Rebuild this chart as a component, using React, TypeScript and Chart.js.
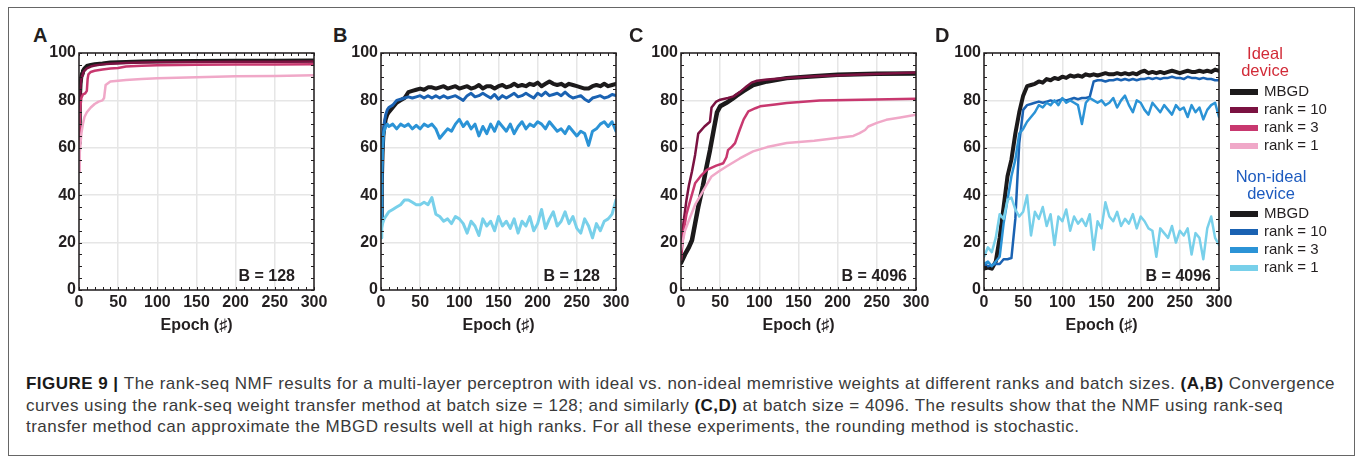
import React, { useEffect, useLayoutEffect, useRef } from 'react';
import { Chart, registerables } from 'chart.js';
Chart.register(...registerables);

const FONT = '"Liberation Sans", Arial, Helvetica, sans-serif';
const INK = '#231f20';

// ---------- colours ----------
const COLOR_MBGD = '#1c1a1b';
const IDEAL_COLORS = ['#1c1a1b', '#7b1241', '#c8386f', '#f0a8c8'];
const NONIDEAL_COLORS = ['#1c1a1b', '#1a62b2', '#2b93d6', '#78d0ea'];
const LEGEND_LABELS = ['MBGD', 'rank = 10', 'rank = 3', 'rank = 1'];

// ---------- axis ----------
const X_MIN = 0, X_MAX = 300, X_STEP = 50;
const Y_MIN = 0, Y_MAX = 100, Y_STEP = 20;
const X_TITLE = 'Epoch (\u266F)';

// ---------- Panel A (ideal, B = 128) ----------
const A_EP_M = [0, 1, 2, 3, 4, 5, 7, 10, 15, 20, 30, 40, 60, 80, 100, 150, 200, 250, 300];
const A_MBGD = [62, 80, 87, 90, 91.5, 92.5, 93.5, 94.5, 95, 95.3, 95.6, 96, 96.2, 96.4, 96.5, 96.6, 96.7, 96.7, 96.8];
const A_R10 = [60, 78, 86, 89, 90.5, 91.5, 92.5, 93.5, 94.3, 94.7, 95.2, 95.5, 95.8, 96, 96.1, 96.2, 96.3, 96.3, 96.4];
const A_EP_R3 = [0, 1, 2, 3, 5, 8, 10, 11, 12, 15, 20, 30, 40, 50, 60, 80, 100, 150, 200, 250, 300];
const A_R3 = [60, 72, 78, 81, 82.5, 83, 84, 89, 91, 92, 92.5, 93, 93.5, 93.7, 94.3, 94.6, 94.8, 95, 95.2, 95.2, 95.3];
const A_EP_R1 = [0, 1, 2, 3, 5, 7, 10, 15, 20, 25, 30, 32, 34, 40, 50, 60, 80, 100, 150, 200, 250, 300];
const A_R1 = [50, 58, 62, 66, 70, 73, 75, 77, 78.5, 79.5, 80, 81, 86.5, 88, 88.3, 88.6, 89, 89.3, 89.8, 90.2, 90.3, 90.6];

// ---------- Panel B (non-ideal, B = 128) ----------
const B_EP = [0, 1, 2, 3, 4, 6, 8, 10, 15, 20, 25, 30, 35, 40, 45, 50, 55, 60, 65, 70, 75, 80, 85, 90, 95, 100,
  105, 110, 115, 120, 125, 130, 135, 140, 145, 150, 155, 160, 165, 170, 175, 180, 185, 190, 195, 200, 205, 210,
  215, 220, 225, 230, 235, 240, 245, 250, 255, 260, 265, 270, 275, 280, 285, 290, 295, 300];
const B_MBGD = [30, 45, 58, 65, 68, 72, 74, 75, 77, 79,
  80, 81, 83.5, 84, 84.5, 85, 84.5, 85.5, 85.5, 85,
  85.5, 86, 85, 85.5, 86, 85, 85.5, 86, 85, 85.5,
  86.5, 85, 86, 86, 85, 86, 86.5, 85.5, 86, 87,
  86, 86.5, 86, 87, 86.5, 87.5, 86, 87, 88, 87,
  86.5, 87, 86, 87, 86.5, 86, 85.5, 85, 85, 86,
  86.5, 86, 87, 86, 86.5, 87];
const B_R10 = [28, 45, 58, 66, 70, 74, 76, 77, 78, 80,
  80.5, 81, 81.5, 81, 81.5, 82, 81, 82, 81, 82,
  81, 82, 81, 81.5, 82, 81, 80, 82, 83, 81.5,
  82, 83, 82, 81, 82.5, 80.5, 82, 81, 82, 83,
  81.5, 82, 83, 82, 81, 83, 82, 83.5, 82, 82.5,
  83, 82, 83.5, 82, 81, 81.5, 82, 80.5, 79.5, 81,
  81.5, 82, 81, 81.5, 82.5, 82];
const B_R3 = [30, 50, 60, 65, 67, 69, 70, 69, 70, 68,
  70, 69, 70, 68, 69.5, 68, 70, 69, 70, 68,
  64, 66, 68, 67, 70, 72, 69, 71, 68, 70,
  65, 69, 66, 70, 67, 71, 69, 67, 70, 66,
  69, 71, 68, 70, 69, 71, 70, 68, 71, 69,
  67, 68, 66, 69, 67, 65, 67, 66, 61, 67,
  68, 70, 71, 69, 71, 67];
const B_R1 = [22, 26, 28, 29, 30, 31, 32, 33, 34, 35,
  36, 38, 38, 37, 36, 36, 37, 36, 39, 32,
  31, 29, 30, 28, 31, 30, 28, 24, 29, 27,
  23, 30, 27, 29, 25, 31, 27, 29, 26, 30,
  24, 29, 27, 31, 25, 28, 34, 26, 30, 33,
  27, 29, 33, 28, 31, 26, 24, 30, 27, 22,
  28, 25, 29, 30, 32, 38];

// ---------- Panel C (ideal, B = 4096) ----------
const C_EP_M = [0, 5, 10, 14, 18, 22, 28, 32, 37, 42, 46, 50, 58, 65, 71, 80, 92, 110, 135, 170, 200, 250, 300];
const C_MBGD = [11.5, 15, 18, 21, 28, 35, 44, 51, 59, 68, 75, 77.5, 79, 80.5, 82, 84, 86.5, 88, 89.4, 90.2, 90.8, 91.2, 91.4];
const C_EP_R10 = [0, 3, 7, 10, 14, 18, 22, 30, 37, 39, 45, 50, 60, 67, 75, 84, 90, 97, 110, 135, 170, 220, 300];
const C_R10 = [14, 28, 38, 44, 50, 57, 66, 69, 71, 77, 79.5, 80.3, 81, 81.7, 83.5, 86, 87.5, 88.3, 88.8, 89.5, 90.2, 90.8, 91.8];
const C_EP_R3 = [0, 3, 7, 12, 18, 25, 33, 45, 54, 58, 60, 65, 69, 75, 80, 86, 95, 101, 120, 135, 177, 230, 300];
const C_R3 = [12.7, 24, 32, 38, 45, 48, 50.7, 52.5, 53.5, 56, 59, 60.5, 62, 67.6, 72, 75.4, 76.7, 77.5, 78.3, 78.9, 80, 80.3, 80.7];
const C_EP_R1 = [0, 5, 12, 18, 24, 32, 39, 48, 58, 75, 92, 110, 135, 170, 199, 220, 228, 235, 239, 250, 262, 280, 300];
const C_R1 = [17, 25, 31, 36, 39.4, 44, 47.9, 50, 52.1, 55.5, 58.5, 60.3, 62, 63, 64.1, 65, 66.2, 67.5, 69, 70.5, 71.8, 72.8, 73.9];

// ---------- Panel D (non-ideal, B = 4096) ----------
const D_EP = [0, 5, 10, 15, 20, 25, 30, 35, 40, 45, 50, 55, 60, 65, 70, 75, 80, 85, 90, 95, 100, 105, 110, 115,
  120, 125, 130, 135, 140, 145, 150, 155, 160, 165, 170, 175, 180, 185, 190, 195, 200, 205, 210, 215, 220, 225,
  230, 235, 240, 245, 250, 255, 260, 265, 270, 275, 280, 285, 290, 295, 300];
const D_MBGD = [9, 9.5, 9, 12, 22, 35, 48, 55, 66, 75,
  82, 86, 86.5, 87, 88, 87.5, 89, 88.5, 89.5, 89,
  90, 89.5, 90.5, 90, 90.5, 90, 91, 90.5, 91, 90.5,
  91, 91.5, 91, 91, 91.5, 91, 91.5, 91, 91.5, 91,
  92, 92.5, 91.5, 92, 91.5, 92, 91.5, 92, 92.5, 92,
  91.5, 92, 92.5, 92, 92, 92.5, 92, 92.5, 92, 93,
  92.5];
const D_R10 = [11, 10, 10.5, 11, 11, 13, 13, 13.5, 30, 62,
  76, 78, 78.5, 79, 79.5, 79, 79.5, 80, 79.5, 80,
  80.5, 80, 80.5, 81, 80.5, 81, 81, 81.5, 88, 88.5,
  88.5, 88, 88.5, 88.5, 89, 88.5, 89, 88.5, 89, 88.5,
  89, 89, 89.5, 89, 89.5, 89, 89.5, 89.5, 90, 89.5,
  89.5, 89, 90, 89.5, 89.5, 89, 89.5, 89, 89, 88.5,
  88.5];
const D_R3 = [11, 12, 10, 12, 14, 28, 38, 48, 55, 66,
  68, 71, 73, 75, 78, 77, 79, 78, 80, 78,
  81, 79, 80, 79, 78, 70, 79, 81, 80, 79,
  80, 78, 79, 81, 77, 80, 82, 78, 75, 80,
  79, 76, 74, 79, 77, 75, 78, 76, 74, 78,
  76, 77, 73, 78, 75, 77, 72, 76, 78, 79,
  73];
const D_R1 = [14, 18, 16, 22, 32, 30, 38, 39, 34, 31,
  33, 40, 23, 33, 30, 35, 27, 32, 19, 31,
  29, 34, 25, 31, 28, 30, 27, 32, 17, 29,
  26, 37, 31, 29, 33, 27, 30, 28, 32, 26,
  31, 29, 26, 25, 14, 26, 24, 22, 27, 20,
  25, 23, 26, 15, 24, 22, 13, 26, 31, 22,
  19];

// ---------- caption ----------
const CAPTION_LINES: [string, boolean][][] = [
  [['FIGURE 9 | ', true], ['The rank-seq NMF results for a multi-layer perceptron with ideal vs. non-ideal memristive weights at different ranks and batch sizes. ', false], ['(A,B)', true], [' Convergence', false]],
  [['curves using the rank-seq weight transfer method at batch size = 128; and similarly ', false], ['(C,D)', true], [' at batch size = 4096. The results show that the NMF using rank-seq', false]],
  [['transfer method can approximate the MBGD results well at high ranks. For all these experiments, the rounding method is stochastic.', false]],
];

// ---------- layout constants ----------
const Y_W = 40, X_H = 48, PAD_T = 12, PAD_R = 16;
const PLOT_W = 235, PLOT_H = 237, PLOT_TOP = 53;
const CW = Y_W + PLOT_W + PAD_R;
const CH = PAD_T + PLOT_H + X_H;

function series(ep: number[], vals: number[], color: string, width: number, order: number) {
  return {
    data: ep.map((e, i) => ({ x: e, y: vals[i] })),
    borderColor: color,
    backgroundColor: color,
    borderWidth: width,
    pointRadius: 0,
    fill: false,
    order,
  };
}

const framePlugin = {
  id: 'frame',
  afterDatasetsDraw(chart: any, _a: any, opts: any) {
    const { ctx, chartArea: a, scales } = chart;
    const xs = scales.x, ys = scales.y;
    ctx.save();
    ctx.strokeStyle = INK;
    ctx.lineWidth = 1;
    ctx.beginPath();
    for (let v = X_MIN; v <= X_MAX; v += 10) {
      const px = Math.round(xs.getPixelForValue(v)) + 0.5;
      ctx.moveTo(px, a.bottom); ctx.lineTo(px, a.bottom - 3);
      ctx.moveTo(px, a.top); ctx.lineTo(px, a.top + 3);
    }
    for (let v = Y_MIN; v <= Y_MAX; v += 5) {
      const py = Math.round(ys.getPixelForValue(v)) + 0.5;
      ctx.moveTo(a.left, py); ctx.lineTo(a.left + 3, py);
      ctx.moveTo(a.right, py); ctx.lineTo(a.right - 3, py);
    }
    ctx.stroke();
    ctx.lineWidth = 1.5;
    ctx.strokeRect(a.left, a.top, a.right - a.left, a.bottom - a.top);
    ctx.font = `bold 16px ${FONT}`;
    ctx.fillStyle = INK;
    ctx.textAlign = 'right';
    ctx.textBaseline = 'middle';
    ctx.fillText(opts.text, a.right - opts.dx, a.bottom - 13);
    ctx.restore();
  },
};

function Panel({ plotLeft, datasets, tag, tagDx }: any) {
  const ref = useRef<HTMLCanvasElement>(null);
  useEffect(() => {
    const tickFont = { family: FONT, size: 16, weight: 'bold' as const };
    const chart = new Chart(ref.current!, {
      type: 'line',
      data: { datasets },
      options: {
        animation: false,
        responsive: false,
        maintainAspectRatio: false,
        layout: { padding: { top: PAD_T, right: PAD_R, left: 0, bottom: 0 } },
        elements: { line: { tension: 0, borderJoinStyle: 'round', borderCapStyle: 'round' }, point: { radius: 0 } },
        plugins: { legend: { display: false }, tooltip: { enabled: false }, frame: { text: tag, dx: tagDx } } as any,
        scales: {
          x: {
            type: 'linear', min: X_MIN, max: X_MAX,
            afterFit: (s: any) => { s.height = X_H; s.paddingLeft = 0; s.paddingRight = 0; },
            ticks: { stepSize: X_STEP, font: tickFont, color: INK, padding: 3, maxRotation: 0, autoSkip: false },
            grid: { color: '#e6e6e6', lineWidth: 1.5, drawTicks: false },
            border: { display: false },
            title: { display: true, text: X_TITLE, font: tickFont, color: INK, padding: { top: 0, bottom: 3 } },
          },
          y: {
            type: 'linear', min: Y_MIN, max: Y_MAX,
            afterFit: (s: any) => { s.width = Y_W; s.paddingTop = 0; s.paddingBottom = 0; },
            ticks: { stepSize: Y_STEP, font: tickFont, color: INK, padding: 3 },
            grid: { color: '#e6e6e6', lineWidth: 1.5, drawTicks: false },
            border: { display: false },
          },
        },
      } as any,
      plugins: [framePlugin],
    });
    return () => chart.destroy();
  }, []);
  return (
    <canvas
      ref={ref}
      width={CW}
      height={CH}
      style={{ position: 'absolute', left: plotLeft - Y_W, top: PLOT_TOP - PAD_T, width: CW, height: CH }}
    />
  );
}

const PANELS = [
  {
    letter: 'A', letterX: 33, plotLeft: 79, tag: 'B = 128', tagDx: 19,
    datasets: [
      series(A_EP_M, A_MBGD, COLOR_MBGD, 4, 4),
      series(A_EP_M, A_R10, IDEAL_COLORS[1], 2.5, 3),
      series(A_EP_R3, A_R3, IDEAL_COLORS[2], 2.5, 2),
      series(A_EP_R1, A_R1, IDEAL_COLORS[3], 2.5, 1),
    ],
  },
  {
    letter: 'B', letterX: 333, plotLeft: 381, tag: 'B = 128', tagDx: 16,
    datasets: [
      series(B_EP, B_MBGD, COLOR_MBGD, 4, 4),
      series(B_EP, B_R10, NONIDEAL_COLORS[1], 3, 3),
      series(B_EP, B_R3, NONIDEAL_COLORS[2], 3, 2),
      series(B_EP, B_R1, NONIDEAL_COLORS[3], 3, 1),
    ],
  },
  {
    letter: 'C', letterX: 629, plotLeft: 681, tag: 'B = 4096', tagDx: 9,
    datasets: [
      series(C_EP_M, C_MBGD, COLOR_MBGD, 4.5, 4),
      series(C_EP_R10, C_R10, IDEAL_COLORS[1], 2.5, 3),
      series(C_EP_R3, C_R3, IDEAL_COLORS[2], 2.5, 2),
      series(C_EP_R1, C_R1, IDEAL_COLORS[3], 2.5, 1),
    ],
  },
  {
    letter: 'D', letterX: 935, plotLeft: 984, tag: 'B = 4096', tagDx: 8,
    datasets: [
      series(D_EP, D_MBGD, COLOR_MBGD, 4, 4),
      series(D_EP, D_R10, NONIDEAL_COLORS[1], 2.5, 3),
      series(D_EP, D_R3, NONIDEAL_COLORS[2], 2.5, 2),
      series(D_EP, D_R1, NONIDEAL_COLORS[3], 2.5, 1),
    ],
  },
];

function Legend() {
  const groups = [
    { title: ['Ideal', 'device'], color: '#d22b38', cx: 1265, ty: 53, colors: IDEAL_COLORS, y0: 91 },
    { title: ['Non-ideal', 'device'], color: '#1d5bbf', cx: 1271, ty: 176, colors: NONIDEAL_COLORS, y0: 213 },
  ];
  const LH = 18;
  return (
    <>
      {groups.map((g, gi) => (
        <React.Fragment key={gi}>
          {g.title.map((t, ti) => (
            <div key={'t' + ti} style={{
              position: 'absolute', left: g.cx - 60, width: 120, textAlign: 'center',
              top: g.ty + ti * 17 - LH / 2, lineHeight: LH + 'px', fontSize: 16.5, color: g.color, fontFamily: FONT,
            }}>{t}</div>
          ))}
          {LEGEND_LABELS.map((lab, i) => (
            <React.Fragment key={'l' + i}>
              <div style={{ position: 'absolute', left: 1230, width: 28, top: g.y0 + i * 18 - 2, height: 6, background: g.colors[i] }} />
              <div style={{
                position: 'absolute', left: 1264, top: g.y0 + i * 18 - LH / 2, lineHeight: LH + 'px',
                fontSize: 15, color: INK, fontFamily: FONT, whiteSpace: 'nowrap',
              }}>{lab}</div>
            </React.Fragment>
          ))}
        </React.Fragment>
      ))}
    </>
  );
}

function Caption() {
  const firstRef = useRef<HTMLSpanElement>(null);
  const boxRef = useRef<HTMLDivElement>(null);
  useLayoutEffect(() => {
    const el = firstRef.current!;
    const w = el.getBoundingClientRect().width;
    const n = (el.textContent || '').length;
    const target = 1309;
    boxRef.current!.style.letterSpacing = ((target - w) / n).toFixed(3) + 'px';
  }, []);
  const LH = 21.5;
  return (
    <div ref={boxRef} style={{ position: 'absolute', left: 26, top: 384 - LH / 2, fontFamily: FONT, fontSize: 17, lineHeight: LH + 'px', color: '#3a3a3a' }}>
      {CAPTION_LINES.map((line, li) => (
        <div key={li} style={{ whiteSpace: 'nowrap' }}>
          <span ref={li === 0 ? firstRef : undefined}>
            {line.map(([txt, bold], k) => (
              <span key={k} style={{ fontWeight: bold ? 'bold' : 'normal', color: bold ? '#1a1a1a' : '#3a3a3a' }}>{txt}</span>
            ))}
          </span>
        </div>
      ))}
    </div>
  );
}

export default function App() {
  return (
    <div style={{ position: 'absolute', left: 0, top: 0, width: 1357, height: 457, background: '#fff', overflow: 'hidden' }}>
      <div style={{ position: 'absolute', left: 8, top: 7, width: 1347, height: 449, border: '1px solid #666', boxSizing: 'border-box' }} />
      {PANELS.map((p) => (
        <React.Fragment key={p.letter}>
          <div style={{
            position: 'absolute', left: p.letterX, top: 35 - 10, lineHeight: '20px', fontSize: 20, fontWeight: 'bold',
            fontFamily: FONT, color: INK,
          }}>{p.letter}</div>
          <Panel plotLeft={p.plotLeft} datasets={p.datasets} tag={p.tag} tagDx={p.tagDx} />
        </React.Fragment>
      ))}
      <Legend />
      <Caption />
    </div>
  );
}
